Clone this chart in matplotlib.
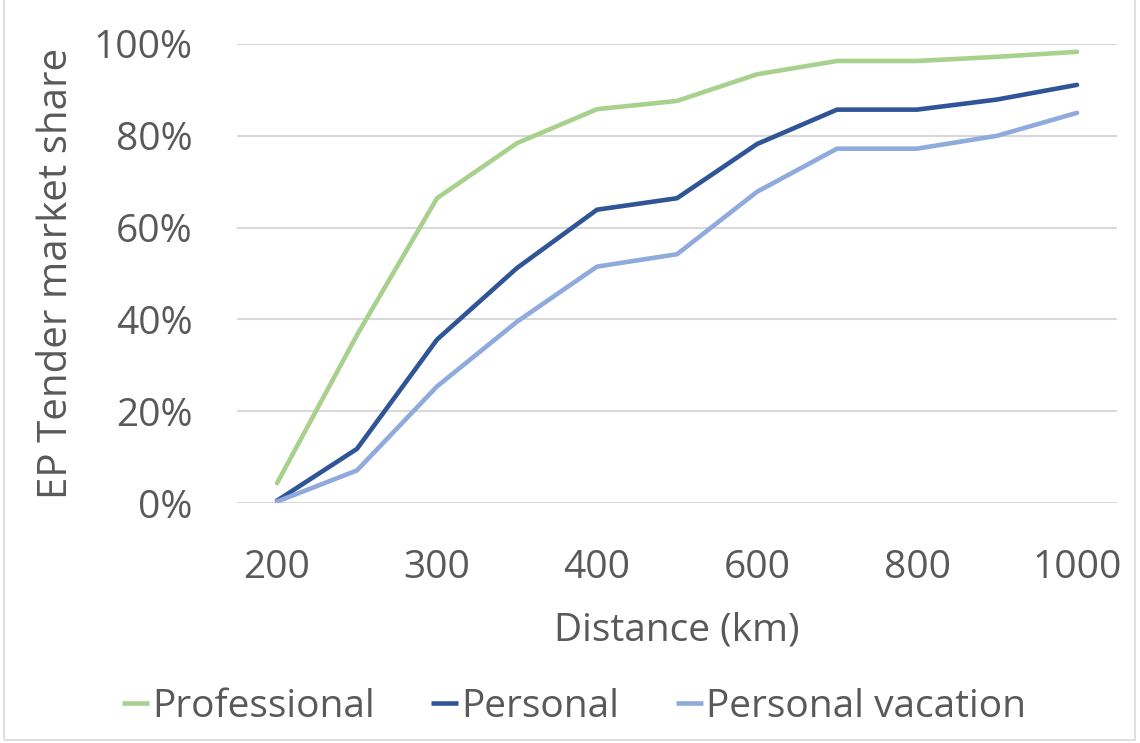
import matplotlib
matplotlib.use("Agg")
import matplotlib.pyplot as plt
from matplotlib.patches import Rectangle

categories = ["200", "250", "300", "350", "400", "500", "600", "700", "800", "900", "1000"]
shown_labels = ["200", "", "300", "", "400", "", "600", "", "800", "", "1000"]
professional = [4.3, 36.6, 66.4, 78.4, 85.8, 87.6, 93.4, 96.3, 96.3, 97.2, 98.3]
personal = [0.5, 11.8, 35.6, 51.2, 63.9, 66.4, 78.2, 85.7, 85.7, 87.9, 91.1]
vacation = [0.3, 7.1, 25.4, 39.5, 51.5, 54.2, 67.8, 77.2, 77.2, 80.0, 85.0]
series_names = ["Professional", "Personal", "Personal vacation"]
colors = ["#A9D18E", "#2F5597", "#8FAADC"]

plt.rcParams['font.family'] = ['Open Sans', 'DejaVu Sans']
txt = "#595959"
fs = 28

fig = plt.figure(figsize=(11.4, 7.43), dpi=100)
ax = fig.add_axes([237/1140, 1 - 503/743, (1117-237)/1140, (503-44)/743])

x = list(range(len(categories)))
for vals, name, c in zip([professional, personal, vacation], series_names, colors):
    ax.plot(x, vals, color=c, lw=3.3, label=name, solid_capstyle='round', solid_joinstyle='round')

ax.set_xlim(-0.5, len(categories) - 0.5)
ax.set_ylim(0, 100)
ax.set_yticks([0, 20, 40, 60, 80, 100])
ax.set_yticklabels([f"{v}%" for v in [0, 20, 40, 60, 80, 100]])
ax.set_xticks(x)
ax.set_xticklabels(shown_labels)
ax.yaxis.grid(True, color="#D9D9D9", lw=1.5)
ax.set_axisbelow(True)
for s in ax.spines.values():
    s.set_visible(False)
ax.tick_params(axis='both', length=0, labelsize=fs, colors=txt)
ax.tick_params(axis='y', pad=32)
ax.tick_params(axis='x', pad=33)

ax.set_xlabel("Distance (km)", fontsize=fs, color=txt, labelpad=18)
ax.set_ylabel("EP Tender market share", fontsize=29, color=txt, labelpad=12)

leg = fig.legend(loc='center', bbox_to_anchor=(574/1140, 1 - 707/743), ncol=3, frameon=False,
                 fontsize=fs, handlelength=0.7, handletextpad=0.08, columnspacing=1.45)
for t in leg.get_texts():
    t.set_color(txt)
for h in leg.legend_handles:
    h.set_solid_capstyle('butt')

fig.patches.append(Rectangle((4/1140, 3/743), (1135-4)/1140, 1.2, transform=fig.transFigure,
                             fill=False, edgecolor="#D9D9D9", lw=1.2))

fig.savefig("out.png", dpi=100)
